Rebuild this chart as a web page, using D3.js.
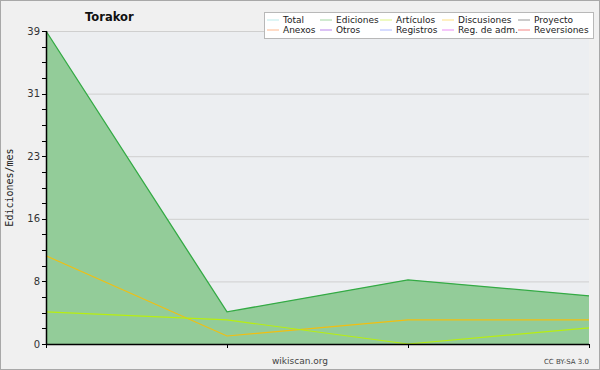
<!DOCTYPE html>
<html>
<head>
<meta charset="utf-8">
<script src="https://cdn.jsdelivr.net/npm/d3@7"></script>
<style>
  body { margin: 0; background: #fff; }
  svg { display: block; font-family: "DejaVu Sans", sans-serif; }
</style>
</head>
<body>
<div id="chart"></div>
<script>
// months (4 points)
const months = ["m1", "m2", "m3", "m4"];
const ediciones = [39, 4, 8, 6];
const discusiones = [11, 1, 3, 3];
const articulos = [4, 3, 0, 2];
const yTicks = [0, 7.8, 15.6, 23.4, 31.2, 39];

const legendNames = [
  ["Total", "Ediciones", "Artículos", "Discusiones", "Proyecto"],
  ["Anexos", "Otros", "Registros", "Reg. de adm.", "Reversiones"]
];
const legendColors = [
  ["#8fdede", "#66bb66", "#c8ee33", "#ffcc33", "#555555"],
  ["#ff8844", "#8833dd", "#7788ff", "#dd44ee", "#ee3333"]
];

const W = 600, H = 370;
const margin = {top: 31, right: 11, bottom: 26, left: 46};
const width = W - margin.left - margin.right;
const height = H - margin.top - margin.bottom;

const svg = d3.select("#chart").append("svg")
    .attr("width", W)
    .attr("height", H);

// outer frame
svg.append("rect")
    .attr("x", 0.5).attr("y", 0.5)
    .attr("width", W - 1).attr("height", H - 1)
    .attr("fill", "#f0f0f0")
    .attr("stroke", "#a8a8a8");

const g = svg.append("g").attr("transform", "translate(" + margin.left + "," + margin.top + ")");

const x = d3.scalePoint().domain(months).range([0, width]);
const y = d3.scaleLinear().domain([0, 39]).range([height, 0]);

// plot background
g.append("rect")
    .attr("width", width).attr("height", height)
    .attr("fill", "#eceef1");

// grid lines
g.selectAll(".grid")
    .data(yTicks.slice(1))
    .enter().append("line")
    .attr("x1", 0).attr("x2", width)
    .attr("y1", d => y(d) + 0.5).attr("y2", d => y(d) + 0.5)
    .attr("stroke", "#cfcfcf");

// filled area for Ediciones
g.append("path")
    .datum(ediciones)
    .attr("fill", "#93cc99")
    .attr("d", d3.area()
        .x((d, i) => x(months[i]))
        .y0(y(0))
        .y1(d => y(d)));

const line = d3.line().x((d, i) => x(months[i])).y(d => y(d));

g.append("path").datum(discusiones)
    .attr("fill", "none").attr("stroke", "#f2bf10").attr("stroke-width", 1.2)
    .attr("d", line);
g.append("path").datum(articulos)
    .attr("fill", "none").attr("stroke", "#b8ee10").attr("stroke-width", 1.2)
    .attr("d", line);
g.append("path").datum(ediciones)
    .attr("fill", "none").attr("stroke", "#33aa44").attr("stroke-width", 1.3)
    .attr("d", line);

// y axis
const minorTicks = d3.range(0, 21).map(i => i * 39 / 20);
g.selectAll(".minor")
    .data(minorTicks)
    .enter().append("line")
    .attr("x1", -4).attr("x2", 0)
    .attr("y1", d => Math.round(y(d)) + 0.5).attr("y2", d => Math.round(y(d)) + 0.5)
    .attr("stroke", "#000");
g.append("line")
    .attr("x1", 0.5).attr("x2", 0.5).attr("y1", 0).attr("y2", height)
    .attr("stroke", "#000").attr("stroke-width", 1.5);
g.selectAll(".ylab")
    .data(yTicks)
    .enter().append("text")
    .attr("x", -6).attr("y", d => y(d))
    .attr("dy", "0.35em")
    .attr("text-anchor", "end")
    .attr("font-size", 10)
    .attr("fill", "#333")
    .text(d => Math.round(d));

// x axis
g.append("line")
    .attr("x1", 0).attr("x2", width).attr("y1", height + 0.5).attr("y2", height + 0.5)
    .attr("stroke", "#000").attr("stroke-width", 1.5);
g.selectAll(".xtick")
    .data(months)
    .enter().append("line")
    .attr("x1", d => x(d) + 0.5).attr("x2", d => x(d) + 0.5)
    .attr("y1", height).attr("y2", height + 4)
    .attr("stroke", "#000");

// title and labels
svg.append("text")
    .attr("x", 85).attr("y", 21)
    .attr("font-size", 11.5).attr("font-weight", "bold")
    .attr("fill", "#111")
    .text("Torakor");

svg.append("text")
    .attr("transform", "translate(13," + (margin.top + height / 2) + ") rotate(-90)")
    .attr("text-anchor", "middle")
    .attr("font-family", "DejaVu Sans Mono, monospace")
    .attr("font-size", 10)
    .attr("fill", "#222")
    .text("Ediciones/mes");

svg.append("text")
    .attr("x", 300).attr("y", 364)
    .attr("text-anchor", "middle")
    .attr("font-size", 9)
    .attr("fill", "#444")
    .text("wikiscan.org");

svg.append("text")
    .attr("x", 589).attr("y", 364)
    .attr("text-anchor", "end")
    .attr("font-size", 7)
    .attr("fill", "#444")
    .text("CC BY-SA 3.0");

// legend
const legend = svg.append("g").attr("transform", "translate(264,12)");
legend.append("rect")
    .attr("x", 0.5).attr("y", 0.5)
    .attr("width", 329).attr("height", 26)
    .attr("fill", "#fff")
    .attr("stroke", "#b8b8b8");
const colX = [3, 56, 116, 178, 254];
legendNames.forEach((row, r) => {
    row.forEach((name, c) => {
        const ly = 8 + r * 10;
        legend.append("line")
            .attr("x1", colX[c]).attr("x2", colX[c] + 12)
            .attr("y1", ly).attr("y2", ly)
            .attr("stroke", legendColors[r][c])
            .attr("stroke-opacity", 0.6);
        legend.append("text")
            .attr("x", colX[c] + 16).attr("y", ly)
            .attr("dy", "0.35em")
            .attr("font-size", 9)
            .attr("fill", "#222")
            .text(name);
    });
});
</script>
</body>
</html>
